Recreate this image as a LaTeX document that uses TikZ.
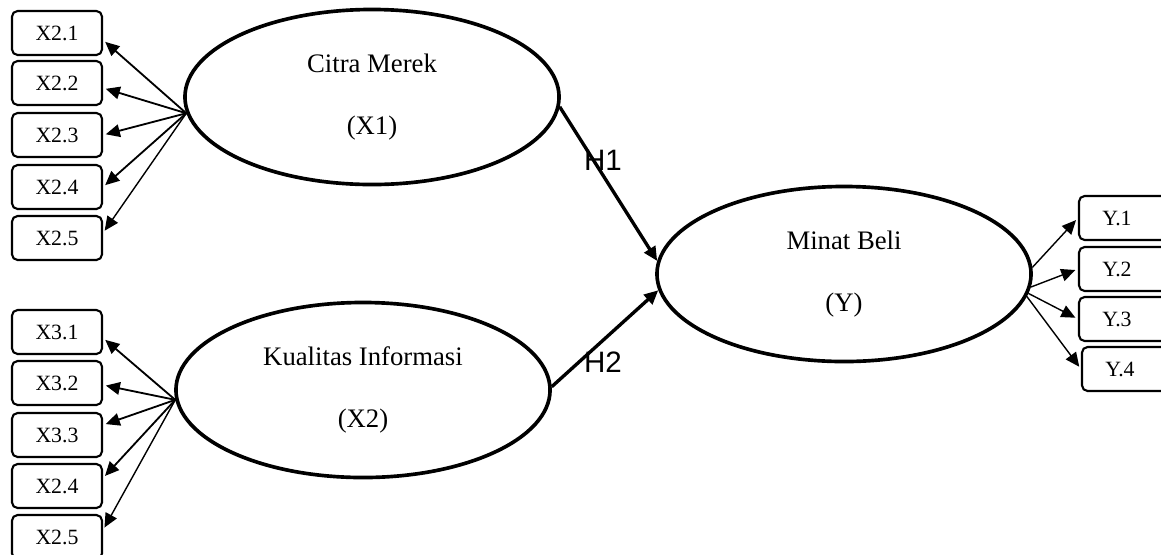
\documentclass[tikz,border=0pt]{standalone}
\usepackage{fontspec}
\setmainfont{Liberation Serif}
\newfontfamily\hfont{Liberation Sans}
\usetikzlibrary{shapes.geometric, arrows.meta, calc}
\tikzset{>={Stealth[inset=0pt, length=10pt, width=9pt]}}
\tikzset{
  ind/.style = {draw, line width=1.5pt, rounded corners=4pt, minimum width=2.25cm,
                minimum height=1.1cm, inner sep=0pt, font=\fontsize{15.5}{18}\selectfont},
  indy/.style = {ind, execute at end node=\hspace*{10pt}},
  lat/.style = {draw, ellipse, line width=2.6pt, minimum width=9.35cm, minimum height=4.375cm,
                inner sep=0pt, align=center, font=\fontsize{19}{44}\selectfont},
  load/.style = {->, line width=1.3pt, shorten >=2pt},
  path/.style = {->, line width=2.4pt}
}

\begin{document}
\begin{tikzpicture}[x=0.025cm, y=-0.025cm]
\useasboundingbox (0,0) rectangle (1161,554);

% latent variables
\node [lat] (X1) at (372,97) {Citra Merek\\(X1)};
\node [lat] (X2) at (363,390) {Kualitas Informasi\\(X2)};
\node [lat] (Y) at (844,274) {Minat Beli\\(Y)};

% indicators of X1
\node [ind] (x21) at (57,33) {X2.1};
\node [ind] (x22) at (57,83) {X2.2};
\node [ind] (x23) at (57,135) {X2.3};
\node [ind] (x24) at (57,187) {X2.4};
\node [ind] (x25) at (57,238) {X2.5};

% indicators of X2
\node [ind] (x31) at (57,332) {X3.1};
\node [ind] (x32) at (57,383) {X3.2};
\node [ind] (x33) at (57,435) {X3.3};
\node [ind] (x34) at (57,486) {X2.4};
\node [ind] (x35) at (57,537) {X2.5};

% indicators of Y
\node [indy] (y1) at (1124,218) {Y.1};
\node [indy] (y2) at (1124,269) {Y.2};
\node [indy] (y3) at (1124,319) {Y.3};
\node [indy] (y4) at (1127,369) {Y.4};

% loadings
\coordinate (A) at (X1.185);
\draw [load] (A) -- ($(x21.east)+(0,7)$);
\draw [load] (A) -- ($(x22.east)+(0,5)$);
\draw [load] (A) -- (x23.east);
\draw [load] (A) -- (x24.east);
\draw [load, line width=1pt] (A) -- ($(x25.east)+(0,-5)$);

\coordinate (B) at (X2.183);
\draw [load] (B) -- ($(x31.east)+(0,6)$);
\draw [load] (B) -- ($(x32.east)+(0,2)$);
\draw [load] (B) -- ($(x33.east)+(0,-10)$);
\draw [load] (B) -- ($(x34.east)+(0,-8)$);
\draw [load, line width=1pt] (B) -- ($(x35.east)+(0,-7)$);

\draw [load, line width=1pt] (Y.2) -- (y1.west);
\draw [load, line width=1pt] (Y.-4) -- (y2.west);
\draw [load, line width=1pt] (Y.-6) -- (y3.west);
\draw [load, line width=1pt] (Y.-7) -- (y4.west);

% hypotheses
\draw [path] (X1.357) -- (Y.176);
\draw [path] (X2.1.5) -- (Y.185);
\node (h1) at (603,160) {\hfont\fontsize{21}{21}\selectfont H1};
\node (h2) at (603,362) {\hfont\fontsize{21}{21}\selectfont H2};
\end{tikzpicture}
\end{document}
